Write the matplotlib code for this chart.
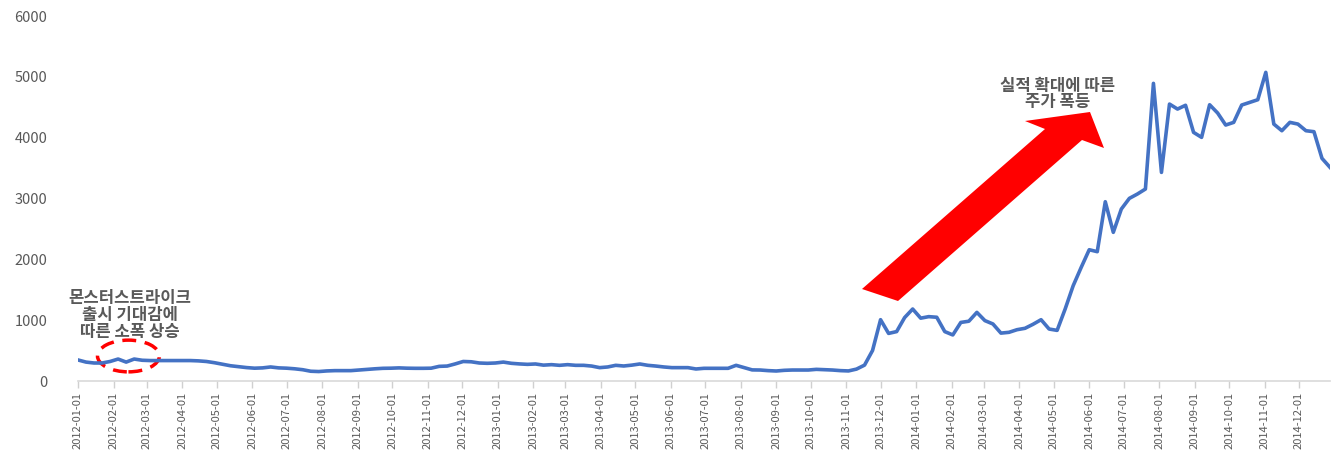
import matplotlib.pyplot as plt
import matplotlib.dates as mdates
import matplotlib.patches as mpatches
from matplotlib.transforms import IdentityTransform
import pandas as pd

plt.rcParams['font.family'] = ['Noto Sans CJK KR', 'DejaVu Sans']

# weekly price, 2012-01-01 .. 2014-12-28
dates = pd.date_range('2012-01-01', periods=157, freq='7D')
prices = [
    345, 310, 295, 295, 320, 360, 310, 360, 340, 335,
    335, 335, 335, 335, 335, 330, 320, 300, 275, 250,
    235, 220, 210, 215, 230, 215, 210, 200, 185, 160,
    155, 165, 170, 170, 170, 180, 190, 200, 208, 210,
    215, 210, 208, 208, 210, 240, 245, 280, 320, 315,
    295, 290, 295, 310, 290, 280, 273, 279, 260, 268,
    257, 268, 257, 257, 245, 219, 230, 257, 246, 260,
    279, 257, 245, 230, 219, 219, 219, 197, 208, 208,
    208, 208, 257, 220, 182, 180, 170, 164, 175, 180,
    180, 180, 191, 185, 180, 170, 165, 195, 260, 500,
    1005, 780, 810, 1040, 1180, 1030, 1055, 1045, 810, 755,
    960, 980, 1125, 990, 935, 785, 798, 841, 864, 930,
    1005, 852, 830, 1180, 1562, 1863, 2152, 2120, 2939, 2437,
    2819, 2994, 3065, 3147, 4879, 3420, 4540, 4458, 4520, 4076,
    3994, 4529, 4393, 4196, 4240, 4524, 4568, 4611, 5060, 4212,
    4103, 4240, 4212, 4103, 4087, 3650, 3502,
]
month_ticks = pd.date_range('2012-01-01', '2014-12-01', freq='MS')
y_ticks = [0, 1000, 2000, 3000, 4000, 5000, 6000]

note_launch = '몬스터스트라이크\n출시 기대감에\n따른 소폭 상승'
note_boom = '실적 확대에 따른\n주가 폭등'

grey = '#595959'

fig = plt.figure(figsize=(13.41, 4.52), dpi=100)
ax = fig.add_axes([78 / 1341, 1 - 382 / 452, 1252 / 1341, 366 / 452])

ax.plot(dates, prices, color='#4472C4', lw=2.6, solid_joinstyle='round')

ax.set_xlim(dates[0], dates[-1])
ax.set_ylim(0, 6000)
ax.set_yticks(y_ticks)
ax.set_xticks(month_ticks)
ax.xaxis.set_major_formatter(mdates.DateFormatter('%Y-%m-%d'))
plt.setp(ax.get_xticklabels(), rotation=90)
ax.tick_params(axis='x', colors='#d0d0d0', labelcolor=grey, labelsize=8,
               length=5, width=1, pad=2)
ax.tick_params(axis='y', length=0, labelcolor=grey, labelsize=10.5, pad=22)

for s in ['top', 'right', 'left']:
    ax.spines[s].set_visible(False)
ax.spines['bottom'].set_color('#d9d9d9')
ax.spines['bottom'].set_linewidth(1.2)

# dashed circle around launch bump
ax.add_patch(mpatches.Ellipse((pd.Timestamp('2012-02-14'), 410), 54, 520,
                              fill=False, ec='red', lw=2.5, ls=(0, (4, 2.5))))

ax.text(pd.Timestamp('2012-02-15'), 1098, note_launch, ha='center', va='center',
        color=grey, fontsize=12, fontweight='bold', linespacing=0.9)
ax.text(pd.Timestamp('2014-05-04'), 4720, note_boom, ha='center', va='center',
        color=grey, fontsize=12, fontweight='bold', linespacing=0.9)

# big red arrow (figure pixels, origin top-left in reference)
arrow_px = [(862, 290), (1045, 130), (1025, 122), (1090, 113),
            (1104, 149), (1082, 141), (898, 302)]
arrow = mpatches.Polygon([(x, 452 - y) for x, y in arrow_px], closed=True,
                         fc='red', ec='none', transform=IdentityTransform())
fig.patches.append(arrow)

fig.savefig('out.png', dpi=100)
